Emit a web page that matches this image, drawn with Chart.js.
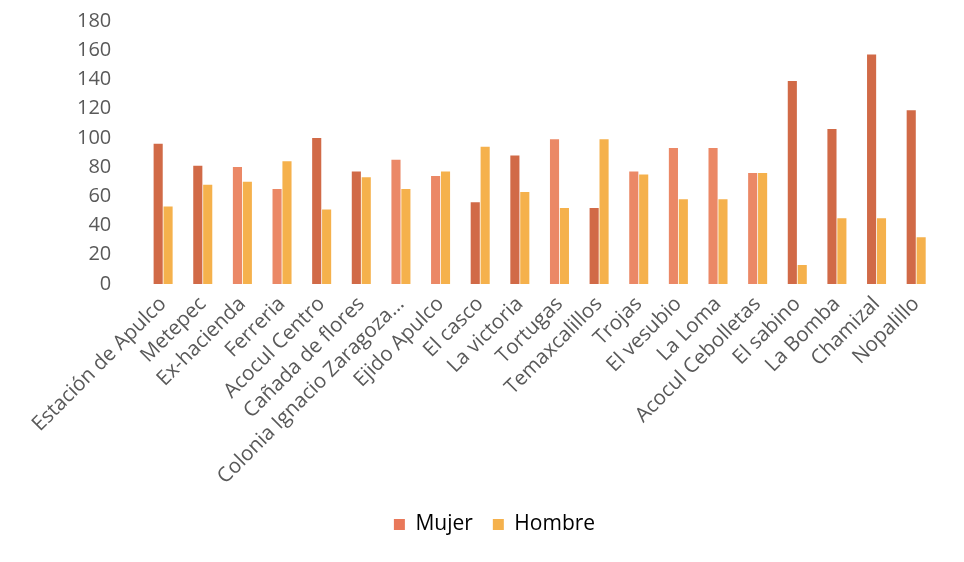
<!DOCTYPE html>
<html lang="es">
<head>
<meta charset="UTF-8">
<title>Mujer / Hombre por localidad</title>
<script src="https://cdn.jsdelivr.net/npm/chart.js"></script>
<style>
  html,body{margin:0;padding:0;background:#fff;}
  #wrap{width:964px;height:562px;position:relative;}
</style>
</head>
<body>
<div id="wrap"><canvas id="chart"></canvas></div>
<script>
/* ==== datos ==== */
const localidades = [
  'Estación de Apulco','Metepec','Ex-hacienda','Ferreria','Acocul Centro',
  'Cañada de flores','Colonia Ignacio Zaragoza...','Ejido Apulco','El casco','La victoria',
  'Tortugas','Temaxcalillos','Trojas','El vesubio','La Loma',
  'Acocul Cebolletas','El sabino','La Bomba','Chamizal','Nopalillo'
];
const mujer  = [96, 81, 80, 65, 100, 77, 85, 74, 56, 88, 99, 52, 77, 93, 93, 76, 139, 106, 157, 119];
const hombre = [53, 68, 70, 84, 51, 73, 65, 77, 94, 63, 52, 99, 75, 58, 58, 76, 13, 45, 45, 32];
const yTicks = [0, 20, 40, 60, 80, 100, 120, 140, 160, 180];

/* ==== colores (tonos del escaneo) ==== */
const oscuro = '#d16a47', claro = '#eb8866';
const tonoMujer = [oscuro, oscuro, claro, claro, oscuro, oscuro, claro, claro, oscuro, oscuro,
                   claro, oscuro, claro, claro, claro, claro, oscuro, oscuro, oscuro, oscuro];
const colorHombre = '#f5b14c';

const gris = '#595959';
const fuente = '"Open Sans", sans-serif';

new Chart(document.getElementById('chart'), {
  type: 'bar',
  data: {
    labels: localidades,
    datasets: [
      {label: 'Mujer', data: mujer, backgroundColor: tonoMujer},
      {label: 'Hombre', data: hombre, backgroundColor: colorHombre}
    ]
  },
  options: {
    responsive: true,
    maintainAspectRatio: false,
    animation: false,
    layout: {padding: {left: 53, right: 28, top: 21, bottom: 17}},
    datasets: {bar: {categoryPercentage: 0.5, barPercentage: 0.92}},
    scales: {
      x: {
        afterFit: s => { s.height = 210; },
        grid: {display: false},
        border: {display: false},
        ticks: {
          color: gris, font: {family: fuente, size: 20.5},
          maxRotation: 45, minRotation: 45, autoSkip: false, padding: 0
        }
      },
      y: {
        min: 0, max: 180,
        afterBuildTicks: s => { s.ticks = yTicks.map(v => ({value: v})); },
        afterFit: s => { s.paddingTop = 0; },
        grid: {display: false},
        border: {display: false},
        ticks: {color: gris, font: {family: fuente, size: 20}, padding: 24}
      }
    },
    plugins: {
      legend: {
        position: 'bottom',
        labels: {
          color: gris, font: {family: fuente, size: 21},
          boxWidth: 11, boxHeight: 11, padding: 20,
          generateLabels: chart => chart.data.datasets.map((d, i) => ({
            text: d.label,
            fillStyle: i === 0 ? '#e9785a' : colorHombre,
            strokeStyle: 'transparent', lineWidth: 0,
            datasetIndex: i, hidden: false
          }))
        }
      },
      tooltip: {enabled: false}
    }
  }
});
</script>
</body>
</html>
